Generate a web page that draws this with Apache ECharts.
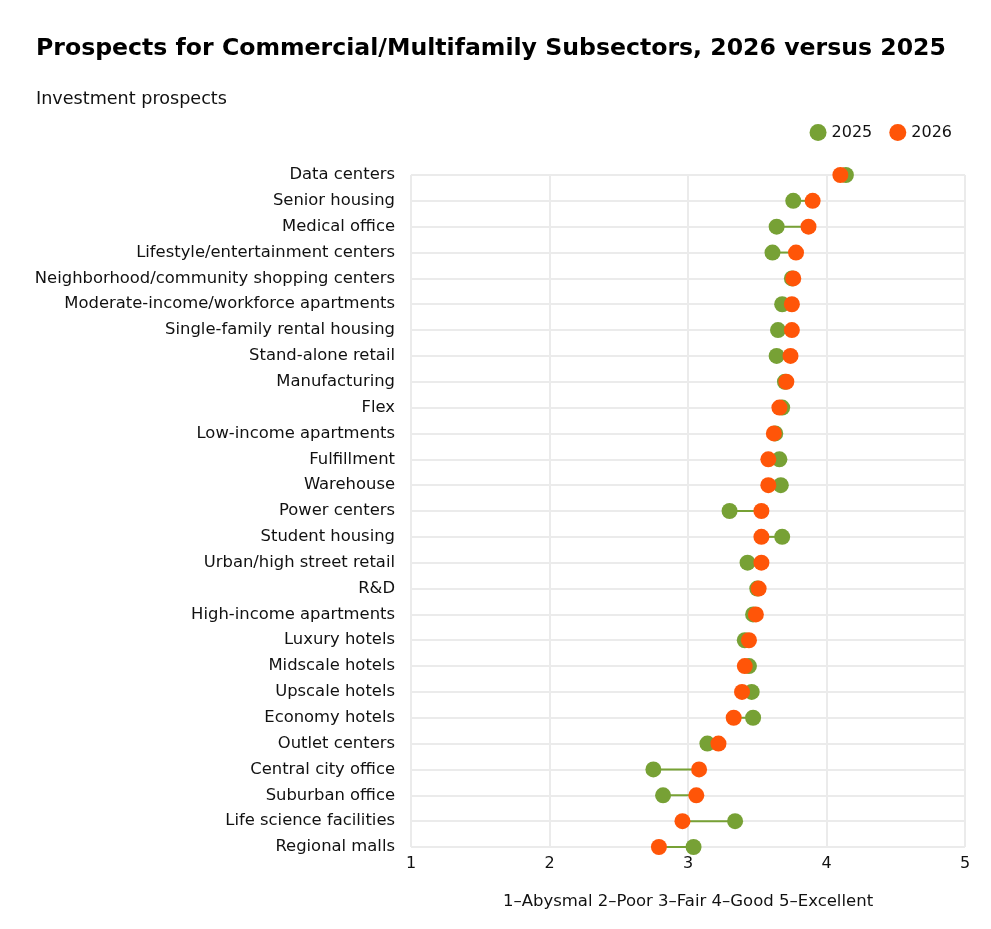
<!DOCTYPE html>
<html>
<head>
<meta charset="utf-8">
<script src="https://cdn.jsdelivr.net/npm/echarts@6/dist/echarts.min.js"></script>
<style>
  html, body { margin: 0; padding: 0; background: #fff; }
  #chart { width: 991px; height: 929px; }
</style>
</head>
<body>
<div id="chart"></div>
<script>
// subsectors, top to bottom
var sectors = ['Data centers', 'Senior housing', 'Medical office', 'Lifestyle/entertainment centers',
  'Neighborhood/community shopping centers', 'Moderate-income/workforce apartments',
  'Single-family rental housing', 'Stand-alone retail', 'Manufacturing', 'Flex',
  'Low-income apartments', 'Fulfillment', 'Warehouse', 'Power centers', 'Student housing',
  'Urban/high street retail', 'R&D', 'High-income apartments', 'Luxury hotels', 'Midscale hotels',
  'Upscale hotels', 'Economy hotels', 'Outlet centers', 'Central city office', 'Suburban office',
  'Life science facilities', 'Regional malls'];
var val2025 = [4.14, 3.76, 3.64, 3.61, 3.75, 3.68, 3.65, 3.64, 3.70, 3.68,
  3.63, 3.66, 3.67, 3.30, 3.68, 3.43, 3.50, 3.47, 3.41, 3.44,
  3.46, 3.47, 3.14, 2.75, 2.82, 3.34, 3.04];
var val2026 = [4.10, 3.90, 3.87, 3.78, 3.76, 3.75, 3.75, 3.74, 3.71, 3.66,
  3.62, 3.58, 3.58, 3.53, 3.53, 3.53, 3.51, 3.49, 3.44, 3.41,
  3.39, 3.33, 3.22, 3.08, 3.06, 2.96, 2.79];
var xTicks = [1, 2, 3, 4, 5];

var green = '#77a135';
var orange = '#ff5508';
var font = '"DejaVu Sans", "Liberation Sans", Arial, sans-serif';

var pts25 = [], pts26 = [], links = [];
for (var i = 0; i < sectors.length; i++) {
  pts25.push([val2025[i], sectors[i]]);
  pts26.push([val2026[i], sectors[i]]);
  links.push([val2025[i], val2026[i], i]);
}

var chart = echarts.init(document.getElementById('chart'));
var option = {
  animation: false,
  textStyle: { fontFamily: font, color: '#111' },
  title: [
    { text: 'Prospects for Commercial/Multifamily Subsectors, 2026 versus 2025', left: 31, top: 32,
      textStyle: { fontSize: 23.6, fontWeight: 'bold', color: '#000', fontFamily: font } },
    { text: 'Investment prospects', left: 31, top: 85,
      textStyle: { fontSize: 17.6, fontWeight: 'normal', color: '#111', fontFamily: font } }
  ],
  legend: {
    right: 34, top: 119,
    icon: 'circle', itemWidth: 17, itemHeight: 17, itemGap: 17,
    textStyle: { fontSize: 16, color: '#111', fontFamily: font },
    data: ['2025', '2026']
  },
  grid: { left: 411, right: 26, top: 175, bottom: 82 },
  xAxis: {
    type: 'value', min: 1, max: 5, interval: 1,
    name: '1–Abysmal 2–Poor 3–Fair 4–Good 5–Excellent',
    nameLocation: 'middle', nameGap: 46,
    nameTextStyle: { fontSize: 16.5, color: '#111', fontFamily: font },
    axisLine: { show: false },
    axisTick: { show: false },
    axisLabel: { fontSize: 16, color: '#111', margin: 9, fontFamily: font,
      customValues: xTicks },
    splitLine: { show: true, lineStyle: { color: '#ebebeb', width: 2 } }
  },
  yAxis: {
    type: 'category', data: sectors, inverse: true, boundaryGap: false,
    axisLine: { show: false },
    axisTick: { show: false },
    axisLabel: { fontSize: 16.4, color: '#111', margin: 16, interval: 0, fontFamily: font,
      padding: [3, 0, 0, 0] },
    splitLine: { show: true, lineStyle: { color: '#ebebeb', width: 2 } }
  },
  series: [
    {
      type: 'custom', name: 'links', silent: true, z: 1,
      encode: { x: [0, 1], y: 2 },
      data: links,
      renderItem: function (params, api) {
        var a = api.coord([api.value(0), api.value(2)]);
        var b = api.coord([api.value(1), api.value(2)]);
        return { type: 'line', shape: { x1: a[0], y1: a[1], x2: b[0], y2: b[1] },
          style: { stroke: green, lineWidth: 2 } };
      }
    },
    { name: '2025', type: 'scatter', symbolSize: 16, z: 2, data: pts25,
      itemStyle: { color: green, opacity: 1 } },
    { name: '2026', type: 'scatter', symbolSize: 16, z: 3, data: pts26,
      itemStyle: { color: orange, opacity: 1 } }
  ]
};
chart.setOption(option);
</script>
</body>
</html>
